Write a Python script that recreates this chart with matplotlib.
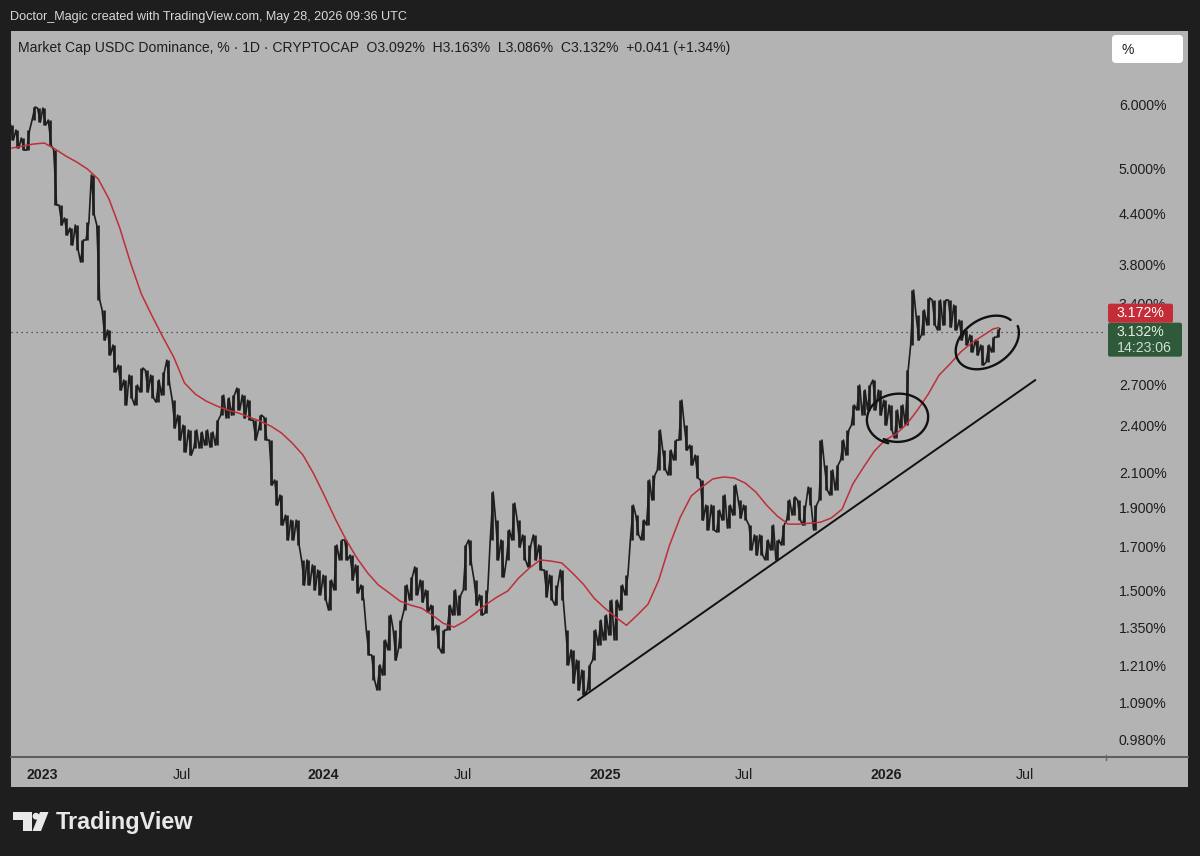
import numpy as np
import pandas as pd
import matplotlib
matplotlib.use('Agg')
import matplotlib.pyplot as plt
import matplotlib.dates as mdates
import matplotlib.transforms as mtrans
from matplotlib.patches import Rectangle, FancyBboxPatch, Polygon, Circle
from matplotlib.lines import Line2D
from matplotlib.ticker import FixedLocator, NullLocator

plt.rcParams['font.family'] = ['Liberation Sans', 'DejaVu Sans']

# ---------------- data ----------------
week_start = '2022-11-23'
n_weeks = 184

high = [5.656, 5.576, 5.450, 5.576, 5.954, 5.937, 5.937, 5.737, 5.266, 4.501,
        4.338, 4.215, 4.252, 4.074, 4.289, 4.903, 4.252, 3.336, 3.151, 3.019,
        2.851, 2.732, 2.771, 2.693, 2.827, 2.811, 2.771, 2.732, 2.795, 2.892,
        2.580, 2.472, 2.402, 2.369, 2.369, 2.355, 2.369, 2.355, 2.437, 2.617,
        2.595, 2.617, 2.670, 2.617, 2.580, 2.437, 2.472, 2.458, 2.302, 2.054,
        1.968, 1.858, 1.832, 1.832, 1.635, 1.635, 1.612, 1.589, 1.566, 1.544,
        1.706, 1.731, 1.731, 1.658, 1.612, 1.522, 1.339, 1.247, 1.212, 1.301,
        1.397, 1.339, 1.377, 1.522, 1.557, 1.603, 1.544, 1.501, 1.437, 1.357,
        1.339, 1.437, 1.501, 1.480, 1.706, 1.731, 1.544, 1.480, 1.501, 1.985,
        1.832, 1.731, 1.781, 1.923, 1.832, 1.756, 1.706, 1.756, 1.706, 1.589,
        1.566, 1.522, 1.589, 1.339, 1.265, 1.229, 1.194, 1.212, 1.339, 1.377,
        1.397, 1.458, 1.458, 1.522, 1.566, 1.912, 1.858, 1.832, 2.054, 2.083,
        2.369, 2.237, 2.237, 2.302, 2.580, 2.402, 2.269, 2.205, 2.054, 1.912,
        1.912, 1.885, 1.968, 1.912, 2.025, 1.940, 1.912, 1.806, 1.756, 1.756,
        1.731, 1.806, 1.731, 1.806, 1.940, 1.957, 1.940, 1.912, 2.013, 1.912,
        2.302, 2.143, 2.113, 2.143, 2.302, 2.369, 2.544, 2.693, 2.655, 2.693,
        2.732, 2.655, 2.580, 2.544, 2.508, 2.544, 2.811, 3.532, 3.289, 3.336,
        3.453, 3.433, 3.433, 3.433, 3.433, 3.384, 3.242, 3.151, 3.106, 3.062,
        3.019, 3.019, 3.088, 3.163]

low = [5.419, 5.296, 5.266, 5.266, 5.737, 5.704, 5.656, 5.342, 4.501, 4.252,
       4.132, 4.016, 3.959, 3.826, 4.074, 4.374, 3.433, 3.062, 2.934, 2.795,
       2.655, 2.544, 2.595, 2.544, 2.640, 2.640, 2.595, 2.565, 2.617, 2.693,
       2.383, 2.302, 2.224, 2.205, 2.250, 2.250, 2.269, 2.256, 2.269, 2.472,
       2.451, 2.472, 2.508, 2.451, 2.437, 2.302, 2.369, 2.302, 2.025, 1.912,
       1.806, 1.731, 1.731, 1.706, 1.522, 1.522, 1.501, 1.480, 1.458, 1.417,
       1.501, 1.635, 1.635, 1.544, 1.488, 1.458, 1.247, 1.161, 1.128, 1.177,
       1.265, 1.229, 1.272, 1.417, 1.458, 1.480, 1.450, 1.409, 1.339, 1.272,
       1.254, 1.339, 1.397, 1.397, 1.501, 1.612, 1.437, 1.397, 1.405, 1.731,
       1.635, 1.557, 1.635, 1.731, 1.696, 1.635, 1.603, 1.635, 1.589, 1.472,
       1.458, 1.437, 1.458, 1.212, 1.151, 1.128, 1.112, 1.128, 1.229, 1.282,
       1.301, 1.320, 1.301, 1.417, 1.480, 1.731, 1.756, 1.731, 1.806, 1.940,
       2.113, 2.113, 2.083, 2.174, 2.302, 2.237, 2.143, 2.066, 1.832, 1.781,
       1.781, 1.771, 1.832, 1.791, 1.858, 1.843, 1.832, 1.682, 1.658, 1.658,
       1.635, 1.682, 1.635, 1.706, 1.832, 1.858, 1.832, 1.806, 1.912, 1.781,
       1.940, 1.996, 1.968, 1.996, 2.174, 2.205, 2.402, 2.508, 2.472, 2.508,
       2.508, 2.472, 2.402, 2.369, 2.315, 2.383, 2.402, 3.019, 3.062, 3.106,
       3.196, 3.196, 3.151, 3.196, 3.178, 3.151, 3.062, 3.019, 2.959, 2.934,
       2.851, 2.876, 2.959, 3.086]

# red moving average, read every second week (+ last bar)
ma_vals = [5.296, 5.327, 5.357, 5.373, 5.281, 5.176, 5.089, 4.988, 4.848, 4.579,
           4.215, 3.815, 3.492, 3.279, 3.088, 2.917, 2.709, 2.625, 2.573, 2.537,
           2.508, 2.487, 2.458, 2.430, 2.396, 2.349, 2.282, 2.205, 2.089, 1.962,
           1.837, 1.731, 1.644, 1.575, 1.522, 1.488, 1.454, 1.437, 1.425, 1.397,
           1.365, 1.350, 1.373, 1.405, 1.441, 1.471, 1.497, 1.553, 1.598, 1.635,
           1.630, 1.621, 1.575, 1.526, 1.466, 1.425, 1.389, 1.357, 1.397, 1.441,
           1.544, 1.706, 1.848, 1.962, 2.013, 2.060, 2.072, 2.066, 2.037, 1.985,
           1.912, 1.853, 1.811, 1.811, 1.816, 1.821, 1.843, 1.890, 2.031, 2.131,
           2.231, 2.302, 2.342, 2.409, 2.508, 2.625, 2.771, 2.859, 2.959, 3.036,
           3.097, 3.160, 3.172]

last_open, last_high, last_low, last_close = 3.092, 3.163, 3.086, 3.132
last_change, last_pct = 0.041, 1.34
ma_last = 3.172
countdown = '14:23:06'

trend_dates = ['2024-11-27', '2026-07-14']
trend_vals = [1.096, 2.732]

# hand-drawn circles: centre date, centre value
circle1 = ('2026-01-17', 2.449)
circle2 = ('2026-05-12', 3.045)

ytick_vals = [0.98, 1.09, 1.21, 1.35, 1.5, 1.7, 1.9, 2.1, 2.4, 2.7, 3.4, 3.8, 4.4, 5.0, 6.0]
xtick_dates = ['2023-01-01', '2023-07-01', '2024-01-01', '2024-07-01',
               '2025-01-01', '2025-07-01', '2026-01-01', '2026-07-01']
xtick_labels = ['2023', 'Jul', '2024', 'Jul', '2025', 'Jul', '2026', 'Jul']

title_top = 'Doctor_Magic created with TradingView.com, May 28, 2026 09:36 UTC'
symbol_txt = 'Market Cap USDC Dominance, % \u00b7 1D \u00b7 CRYPTOCAP'

# ---------------- figure ----------------
W, H = 1200, 856
DPI = 100
BG = '#1e1e1e'
PANEL = '#b3b3b3'

fig = plt.figure(figsize=(W / DPI, H / DPI), dpi=DPI, facecolor=BG)


def inch(x, y):
    return (x / DPI, (H - y) / DPI)


# chart panel background
px0, py0, px1, py1 = 11, 31, 1188, 787
fig.add_artist(Rectangle(inch(px0, py1), (px1 - px0) / DPI, (py1 - py0) / DPI,
                         transform=fig.dpi_scale_trans, fc=PANEL, ec='none', zorder=-10))
# separator between plot and time axis
fig.add_artist(Line2D([px0 / DPI, px1 / DPI], [(H - 756.5) / DPI] * 2,
                      transform=fig.dpi_scale_trans, color='#5c5c5c', lw=1.4, zorder=-5))
fig.add_artist(Line2D([1106 / DPI] * 2, [(H - 755) / DPI, (H - 760) / DPI],
                      transform=fig.dpi_scale_trans, color='#6a6a6a', lw=1.0, zorder=-5))

ax = fig.add_axes([11 / W, 1 - 756 / H, 1094 / W, 725 / H])
ax.set_facecolor('none')
for s in ax.spines.values():
    s.set_visible(False)

dates = pd.date_range(week_start, periods=n_weeks, freq='7D')
ma_idx = list(range(0, n_weeks, 2)) + [n_weeks - 1]
ma_dates = dates[ma_idx]

# price: weekly high-low ranges plus a path that runs through each range
ax.vlines(dates, low, high, color='#1e1e1e', lw=1.9, zorder=3)
mid = [(h + l) / 2 for h, l in zip(high, low)]
half = pd.Timedelta(days=1.9)
path_x, path_y = [], []
for i, (d, h, l) in enumerate(zip(dates, high, low)):
    nxt = mid[i + 1] if i + 1 < len(mid) else mid[i]
    prv = mid[i - 1] if i > 0 else mid[i]
    if nxt >= prv:
        path_y += [l, h]
    else:
        path_y += [h, l]
    path_x += [d - half, d + half]
ax.plot(path_x, path_y, color='#1e1e1e', lw=1.2, zorder=3)

# moving average
ax.plot(ma_dates, ma_vals, color='#bd2f3a', lw=1.1, zorder=4)

# current price dotted line
ax.axhline(last_close, color='#3a3a3a', lw=0.9, ls=(0, (1, 3)), zorder=2)

# trend line
ax.plot(pd.to_datetime(trend_dates), trend_vals, color='#111111', lw=1.4, zorder=5,
        solid_capstyle='round')

base = pd.Timestamp('2023-01-01')
ax.set_xlim(base - pd.Timedelta(days=40.3), base + pd.Timedelta(days=1380.5))
ax.set_yscale('log')
ax.set_ylim(0.9346, 7.396)
ax.autoscale(False)


def hand_loop(center, rx, ry, ang, t0, t1, grow=0.0, lw=1.7):
    d, v = center
    t = np.radians(np.linspace(t0, t1, 300))
    frac = (t - t[0]) / (t[-1] - t[0])
    r = 1 - grow / 2 + grow * frac
    ex = rx * r * np.cos(t)
    ey = ry * r * np.sin(t)
    a = np.radians(ang)
    pxs = ex * np.cos(a) - ey * np.sin(a)
    pys = ex * np.sin(a) + ey * np.cos(a)
    tr = fig.dpi_scale_trans + mtrans.ScaledTranslation(
        mdates.date2num(pd.Timestamp(d)), v, ax.transData)
    ax.add_line(Line2D(pxs / DPI, pys / DPI, transform=tr, color='#111111', lw=lw,
                       solid_capstyle='round', zorder=6))


hand_loop(circle1, 30.5, 24.5, 6, 235, 235 + 372, grow=0.10)
hand_loop(circle2, 34.0, 23.5, 33, 14, 352, grow=0.06)

# y axis (right)
ax.yaxis.tick_right()
ax.yaxis.set_major_locator(FixedLocator(ytick_vals))
ax.yaxis.set_minor_locator(NullLocator())
ax.set_yticklabels([f'{v:.3f}%' for v in ytick_vals])
ax.tick_params(axis='y', length=0, pad=10, labelsize=10.2, labelcolor='#1e1e1e')

# x axis
ax.set_xticks(pd.to_datetime(xtick_dates))
ax.set_xticklabels(xtick_labels)
ax.xaxis.set_minor_locator(NullLocator())
ax.tick_params(axis='x', length=0, pad=8.5, labelsize=10.2, labelcolor='#1e1e1e')
for lab in ax.get_xticklabels():
    if lab.get_text() != 'Jul':
        lab.set_fontweight('bold')

# header texts
fig.text(10 / W, 1 - 17 / H, title_top, color='#d9d9d9', fontsize=9.1, va='center', ha='left')
hdr = (f'{symbol_txt}  O{last_open:.3f}%  H{last_high:.3f}%  L{last_low:.3f}%  '
       f'C{last_close:.3f}%  +{last_change:.3f} (+{last_pct:.2f}%)')
fig.text(18 / W, 1 - 48 / H, hdr, color='#1e1e1e', fontsize=10.1, va='center', ha='left')

# "%" button
fig.add_artist(FancyBboxPatch(inch(1112, 63), 71 / DPI, 28 / DPI,
                              boxstyle='round,pad=0,rounding_size=0.04',
                              transform=fig.dpi_scale_trans, fc='white', ec='none', zorder=5))
fig.text(1121 / W, 1 - 49.5 / H, '%', color='#1e1e1e', fontsize=10, va='center', ha='left', zorder=6)

# price labels (positioned from the close value)
close_px = ax.transData.transform((0, last_close))[1]  # display pixels from bottom
g_top = close_px + 9.5
g_h = 34
fig.add_artist(FancyBboxPatch((1108 / DPI, (g_top - g_h) / DPI), 74 / DPI, g_h / DPI,
                              boxstyle='round,pad=0,rounding_size=0.02',
                              transform=fig.dpi_scale_trans, fc='#2f5a3a', ec='none', zorder=7))
r_h = 19
fig.add_artist(FancyBboxPatch((1108 / DPI, g_top / DPI), 65 / DPI, r_h / DPI,
                              boxstyle='round,pad=0,rounding_size=0.02',
                              transform=fig.dpi_scale_trans, fc='#c42c38', ec='none', zorder=7))
fig.text(1117 / DPI, (g_top + r_h / 2) / DPI, f'{ma_last:.3f}%', transform=fig.dpi_scale_trans,
         color='white', fontsize=10.2, va='center', ha='left', zorder=8)
fig.text(1117 / DPI, (g_top - 9.5) / DPI, f'{last_close:.3f}%', transform=fig.dpi_scale_trans,
         color='#e4ece4', fontsize=10.2, va='center', ha='left', zorder=8)
fig.text(1117 / DPI, (g_top - 25.5) / DPI, countdown, transform=fig.dpi_scale_trans,
         color='#cfdccf', fontsize=10.2, va='center', ha='left', zorder=8)

# TradingView logo
LOGO = '#e8e8e8'
fig.add_artist(Polygon([inch(13, 812), inch(32, 812), inch(32, 831), inch(23, 831),
                        inch(23, 820), inch(13, 820)], closed=True,
                       transform=fig.dpi_scale_trans, fc=LOGO, ec='none'))
fig.add_artist(Circle(inch(36.0, 816.2), 3.4 / DPI, transform=fig.dpi_scale_trans, fc=LOGO, ec='none'))
fig.add_artist(Polygon([inch(40, 812), inch(48.5, 812), inch(41, 831), inch(32.5, 831)],
                       closed=True, transform=fig.dpi_scale_trans, fc=LOGO, ec='none'))
fig.text(56 / W, 1 - 822 / H, 'TradingView', color=LOGO, fontsize=16.8, fontweight='bold',
         va='center', ha='left')

fig.savefig('out.png', dpi=DPI, facecolor=BG)
